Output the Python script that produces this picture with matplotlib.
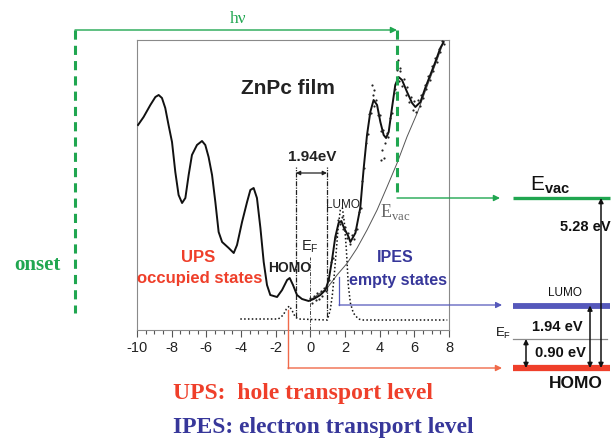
import numpy as np
import matplotlib
matplotlib.use("Agg")
from matplotlib import pyplot as plt
from matplotlib.ticker import MultipleLocator

plt.rcParams["font.family"] = ["Liberation Sans", "DejaVu Sans"]
plt.rcParams["axes.unicode_minus"] = False
plt.rcParams["mathtext.fontset"] = "custom"
plt.rcParams["mathtext.rm"] = "Liberation Serif"
plt.rcParams["mathtext.sf"] = "Liberation Sans"
plt.rcParams["mathtext.bf"] = "Liberation Sans:bold"

GREEN = "#20a650"
RED = "#ef3f2a"
BLUE_TXT = "#37379a"
BLUE = "#5558bb"

# UPS + IPES spectrum (energy in eV, intensity arb. units)
spec_x = [-9.94, -9.62, -9.23, -8.94, -8.75, -8.56, -8.37, -8.18, -7.98, -7.79,
          -7.60, -7.40, -7.21, -7.02, -6.83, -6.54, -6.25, -6.06, -5.87, -5.67,
          -5.48, -5.29, -5.09, -4.71, -4.42, -4.23, -3.94, -3.65, -3.46, -3.27,
          -3.08, -2.88, -2.69, -2.50, -2.31, -1.92, -1.63, -1.34, -1.19, -1.00,
          -0.77, -0.48, -0.10, 0.19, 0.58, 0.87, 1.06, 1.25, 1.44, 1.63,
          1.79, 1.92, 2.21, 2.31, 2.60, 2.88, 3.08, 3.27, 3.46, 3.65,
          3.85, 4.04, 4.23, 4.37, 4.52, 4.71, 4.90, 5.09, 5.29, 5.58,
          5.87, 6.06, 6.35, 6.63, 6.92, 7.21, 7.50, 7.69]
spec_y = [205, 213, 225, 233, 235, 232, 222, 205, 188, 158,
          135, 127, 132, 155, 175, 185, 189, 185, 173, 155,
          128, 98, 88, 82, 77, 85, 108, 128, 140, 142,
          132, 102, 68, 45, 35, 33, 40, 50, 52, 45,
          35, 31, 29, 31, 35, 40, 50, 70, 93, 107,
          109, 103, 93, 88, 97, 122, 162, 195, 218, 230,
          225, 208, 195, 192, 198, 222, 245, 253, 250, 238,
          227, 223, 228, 242, 255, 268, 282, 288]

# IPES raw data points
ipes_x = [0.0, 0.1, 0.2, 0.3, 0.4, 0.5, 0.6, 0.7, 0.8, 0.9,
          1.0, 1.1, 1.2, 1.3, 1.4, 1.5, 1.6, 1.7, 1.8, 1.9,
          2.0, 2.1, 2.2, 2.3, 2.4, 2.5, 2.6, 2.7, 2.8, 2.9,
          3.0, 3.1, 3.2, 3.3, 3.4, 3.5, 3.6, 3.7, 3.8, 3.9,
          4.0, 4.1, 4.2, 4.3, 4.4, 4.5, 4.6, 4.7, 4.8, 4.9,
          5.0, 5.1, 5.2, 5.3, 5.4, 5.5, 5.6, 5.7, 5.8, 5.9,
          6.0, 6.1, 6.2, 6.3, 6.4, 6.5, 6.6, 6.7, 6.8, 6.9,
          7.0, 7.1, 7.2, 7.3, 7.4, 7.5, 7.6, 7.7,
          3.55, 3.65, 4.05, 4.15, 4.25, 5.0, 5.05, 5.2]
ipes_y = [32, 27, 34, 30, 37, 31, 39, 34, 42, 39,
          50, 50, 68, 72, 92, 94, 110, 106, 113, 101,
          103, 92, 97, 86, 95, 91, 100, 101, 118, 122,
          149, 162, 187, 196, 216, 217, 235, 224, 230, 215,
          215, 199, 200, 187, 197, 193, 212, 217, 237, 241,
          260, 249, 259, 244, 251, 235, 243, 228, 233, 220,
          229, 218, 230, 224, 235, 232, 245, 241, 254, 250,
          264, 259, 272, 268, 281, 278, 289, 286,
          245, 240, 170, 180, 172, 265, 270, 262]

# vacuum level background
bg_x = [0.0, 0.96, 1.54, 2.12, 2.69, 3.27, 3.85, 4.43, 5.00, 5.58, 6.16, 6.73, 7.31, 7.69]
bg_y = [30, 41.7, 55, 66.7, 81.7, 100, 120, 143.3, 166.7, 193.3, 216.7, 243.3, 270, 288.3]

# fitted HOMO / LUMO peaks (dotted)
fit_x = [-4.04, -1.85, -1.56, -1.38, -1.21, -1.04, -0.87, -0.69, 0.98, 1.15,
         1.27, 1.38, 1.50, 1.62, 1.73, 1.85, 1.96, 2.08, 2.19, 2.31,
         2.48, 2.77, 3.0, 7.9]
fit_y = [11, 11, 15, 21, 24, 19, 13, 11, 10, 20,
         35, 55, 80, 105, 120, 122, 108, 80, 45, 27,
         17, 11, 10, 10]

homo_edge, lumo_edge = -0.83, 0.96
ef_pos = 0.0

# energy level diagram (eV relative to HOMO)
levels = {"HOMO": 0.0, "EF": 0.90, "LUMO": 1.94, "Evac": 5.28}

fig = plt.figure(figsize=(6.16, 4.38), dpi=100)

ax = fig.add_axes([137 / 616, 108 / 438, 312 / 616, 290 / 438])
ax.set_xlim(-10, 8)
ax.set_ylim(0, 290)
for s in ax.spines.values():
    s.set_color("#8a8a8a")
    s.set_linewidth(0.8)
ax.set_yticks([])
ax.xaxis.set_major_locator(MultipleLocator(2))
ax.xaxis.set_minor_locator(MultipleLocator(0.5))
ax.tick_params(axis="x", which="major", direction="out", length=5, width=0.8,
               color="#555555", labelsize=10.5, pad=3, labelcolor="#222222")
ax.tick_params(axis="x", which="minor", direction="out", length=3, width=0.8, color="#555555")

ax.plot(spec_x, spec_y, color="#111111", lw=1.4, zorder=3)
ax.scatter(ipes_x, ipes_y, s=2.5, color="#222222", zorder=3, lw=0)
ax.plot(bg_x, bg_y, color="#555555", lw=0.7, zorder=2)
ax.plot(fit_x, fit_y, color="#111111", lw=1.1, ls=(0, (1, 1.5)), zorder=2)

for xe in (homo_edge, lumo_edge):
    ax.plot([xe, xe], [13, 163], color="#222222", lw=0.9, ls=(0, (4, 1, 1, 1)))
ax.plot([ef_pos, ef_pos], [0, 73], color="#444444", lw=0.7, ls=(0, (4, 1.5, 1, 1.5)))
ax.annotate("", xy=(homo_edge, 157), xytext=(lumo_edge, 157),
            arrowprops=dict(arrowstyle="<|-|>", color="#222222", lw=0.9,
                            mutation_scale=6, shrinkA=0, shrinkB=0))
ax.text(0.1, 173, "1.94eV", ha="center", va="center", fontsize=11, fontweight="bold", color="#222222")
ax.text(-1.3, 242, "ZnPc film", ha="center", va="center", fontsize=15, fontweight="bold", color="#222222")
ax.text(1.9, 125, "LUMO", ha="center", va="center", fontsize=8.5, color="#222222")
ax.text(-1.2, 62, "HOMO", ha="center", va="center", fontsize=10, fontweight="bold", color="#222222")
ax.text(0.0, 83, r"$\mathsf{E}_{\mathsf{F}}$", ha="center", va="center", fontsize=10.5, color="#222222")
ax.text(4.9, 118, r"$\mathrm{E}_{\mathrm{vac}}$", ha="center", va="center", fontsize=13, color="#666666")
ax.text(4.9, 72, "IPES", ha="center", va="center", fontsize=11.5, fontweight="bold", color=BLUE_TXT)
ax.text(5.05, 50, "empty states", ha="center", va="center", fontsize=11.5, fontweight="bold", color=BLUE_TXT)
ax.text(-6.5, 72, "UPS", ha="center", va="center", fontsize=12, fontweight="bold", color=RED)
ax.text(-6.4, 52, "occupied states", ha="center", va="center", fontsize=12, fontweight="bold", color=RED)

# energy level diagram
en = fig.add_axes([490 / 616, 38 / 438, 126 / 616, 220 / 438])
en.set_xlim(490, 616)
en.set_ylim(-0.994, 5.839)
en.axis("off")
en.plot([513, 610], [levels["Evac"]] * 2, color=GREEN, lw=2.4, solid_capstyle="butt")
en.plot([513, 610], [levels["LUMO"]] * 2, color=BLUE, lw=4.2, solid_capstyle="butt")
en.plot([513, 607], [levels["EF"]] * 2, color="#8a8a8a", lw=0.9)
en.plot([513, 610], [levels["HOMO"]] * 2, color=RED, lw=4.5, solid_capstyle="butt")
arr = dict(arrowstyle="<|-|>", color="#111111", lw=1.1, mutation_scale=7, shrinkA=0, shrinkB=0)
en.annotate("", xy=(601, levels["HOMO"]), xytext=(601, levels["Evac"]), arrowprops=arr)
en.annotate("", xy=(590, levels["HOMO"]), xytext=(590, levels["LUMO"]), arrowprops=arr)
en.annotate("", xy=(526, levels["HOMO"]), xytext=(526, levels["EF"]), arrowprops=arr)
en.text(530, 5.67, r"$\mathsf{E}_{\mathbf{vac}}$", ha="left", va="center", fontsize=15, color="#111111")
en.text(585, 4.38, "5.28 eV", ha="center", va="center", fontsize=10.5, fontweight="bold", color="#111111")
en.text(565, 2.34, "LUMO", ha="center", va="center", fontsize=8.5, color="#111111")
en.text(503, 1.08, r"$\mathsf{E}_{\mathsf{F}}$", ha="center", va="center", fontsize=9.5, color="#111111")
en.text(557, 1.27, "1.94 eV", ha="center", va="center", fontsize=10.5, fontweight="bold", color="#111111")
en.text(560, 0.46, "0.90 eV", ha="center", va="center", fontsize=10.5, fontweight="bold", color="#111111")
en.text(576, -0.47, "HOMO", ha="center", va="center", fontsize=12.5, fontweight="bold", color="#111111")

# connectors and outer labels (figure pixel frame)
ov = fig.add_axes([0, 0, 1, 1])
ov.set_xlim(0, 616)
ov.set_ylim(438, 0)
ov.axis("off")
ov.patch.set_visible(False)
head = dict(arrowstyle="-|>", lw=1.0, mutation_scale=9, shrinkA=0, shrinkB=0)
ov.annotate("", xy=(397, 30), xytext=(75, 30), arrowprops=dict(head, color=GREEN))
ov.text(238, 19, "hν", ha="center", va="center", fontsize=12.5, color=GREEN, family="Liberation Serif")
ov.plot([75, 75], [30, 313], color=GREEN, lw=2.2, ls=(0, (3, 2)))
ov.plot([397, 397], [30, 198], color=GREEN, lw=2.2, ls=(0, (3, 2)))
ov.annotate("", xy=(500, 198), xytext=(397, 198), arrowprops=dict(head, color=GREEN))
ov.plot([339, 339], [277, 305], color=BLUE, lw=0.9)
ov.annotate("", xy=(502, 305), xytext=(339, 305), arrowprops=dict(head, color=BLUE, lw=0.9))
ov.plot([288, 288], [310, 368], color="#f06a4a", lw=1.0)
ov.annotate("", xy=(502, 368), xytext=(288, 368), arrowprops=dict(head, color="#f06a4a"))
ov.text(37, 265, "onset", ha="center", va="center", fontsize=15, fontweight="bold",
        color=GREEN, family="Liberation Serif")
ov.text(173, 393, "UPS:  hole transport level", ha="left", va="center", fontsize=17,
        fontweight="bold", color=RED, family="Liberation Serif")
ov.text(173, 428, "IPES: electron transport level", ha="left", va="center", fontsize=17,
        fontweight="bold", color=BLUE_TXT, family="Liberation Serif")

fig.savefig("out.png", dpi=100, facecolor="white")
